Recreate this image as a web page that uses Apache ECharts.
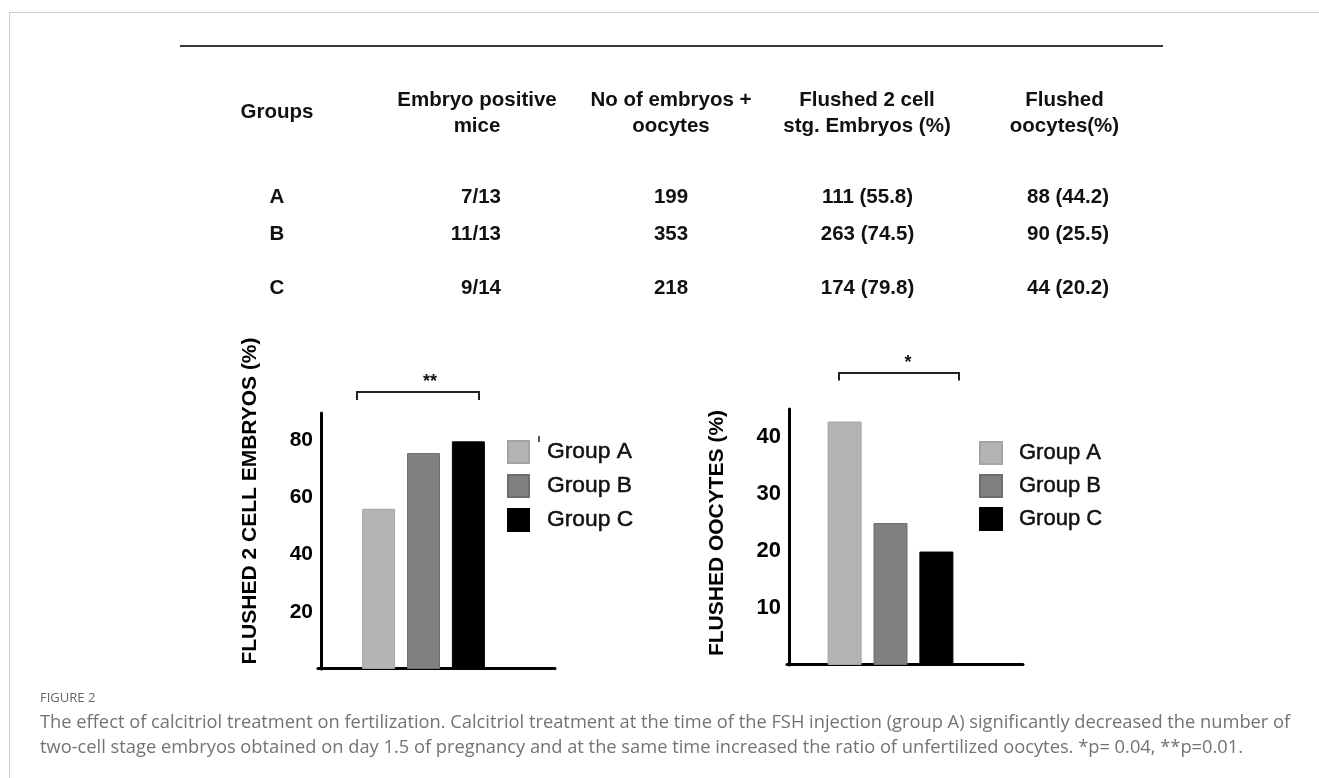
<!DOCTYPE html>
<html><head><meta charset="utf-8">
<script src="https://cdn.jsdelivr.net/npm/echarts@6/dist/echarts.min.js"></script>
<style>html,body{margin:0;padding:0;background:#fff}#c{width:1319px;height:778px}</style>
</head><body><div id="c"></div>
<script>
// ---- data ----
const groups = ['Group A', 'Group B', 'Group C'];
const tableHeaders = [['Groups'], ['Embryo positive', 'mice'], ['No of embryos +', 'oocytes'], ['Flushed 2 cell', 'stg. Embryos (%)'], ['Flushed', 'oocytes(%)']];
const rowLabels = ['A', 'B', 'C'];
const positiveMice = ['7/13', '11/13', '9/14'];
const totalCounts = ['199', '353', '218'];
const embryoCells = ['111 (55.8)', '263 (74.5)', '174 (79.8)'];
const oocyteCells = ['88 (44.2)', '90 (25.5)', '44 (20.2)'];
const embryoPct = [56.0, 75.5, 79.6];
const oocytePct = [42.7, 24.9, 19.9];
const embryoTicks = [20, 40, 60, 80];
const oocyteTicks = [10, 20, 30, 40];
const leftTitle = 'FLUSHED 2 CELL EMBRYOS (%)';
const rightTitle = 'FLUSHED OOCYTES (%)';
const figureLabel = 'FIGURE 2';
const captionLines = [
  'The effect of calcitriol treatment on fertilization. Calcitriol treatment at the time of the FSH injection (group A) significantly decreased the number of',
  'two-cell stage embryos obtained on day 1.5 of pregnancy and at the same time increased the ratio of unfertilized oocytes. *p= 0.04, **p=0.01.'
];

// ---- styles ----
const colors = ['#b4b4b4', '#808080', '#000000'];
const borders = ['#a4a4a4', '#6e6e6e', '#000000'];
const SANS = '"Liberation Sans", Arial, sans-serif';
const tableFont = 'bold 20.5px ' + SANS;

const chart = echarts.init(document.getElementById('c'), null, { renderer: 'canvas' });

const graphics = [];
// frame
graphics.push({ type: 'line', shape: { x1: 9.5, y1: 12.5, x2: 1319, y2: 12.5 }, style: { stroke: '#cccccc', lineWidth: 1 } });
graphics.push({ type: 'line', shape: { x1: 9.5, y1: 12.5, x2: 9.5, y2: 778 }, style: { stroke: '#cccccc', lineWidth: 1 } });
// table top rule
graphics.push({ type: 'line', shape: { x1: 180, y1: 46, x2: 1163, y2: 46 }, style: { stroke: '#3a3a3a', lineWidth: 2 } });

// table
const headerX = [277, 477, 671, 867, 1064.5];
function txt(text, x, y, align, font, color) {
  graphics.push({ type: 'text', x: x, y: y, style: { text: text, font: font, fill: color || '#111', align: align, verticalAlign: 'middle' } });
}
tableHeaders.forEach((h, i) => {
  if (h.length === 1) txt(h[0], headerX[i], 112.5, 'center', tableFont);
  else { txt(h[0], headerX[i], 100.5, 'center', tableFont); txt(h[1], headerX[i], 126.5, 'center', tableFont); }
});
const rowY = [197, 234.5, 288.5];
rowLabels.forEach((r, i) => {
  txt(r, 277, rowY[i], 'center', tableFont);
  txt(positiveMice[i], 501, rowY[i], 'right', tableFont);
  txt(totalCounts[i], 671, rowY[i], 'center', tableFont);
  txt(embryoCells[i], 867.5, rowY[i], 'center', tableFont);
  txt(oocyteCells[i], 1068, rowY[i], 'center', tableFont);
});

// axis titles
graphics.push({ type: 'text', x: 250, y: 501, rotation: Math.PI / 2, style: { text: leftTitle, font: 'bold 21px ' + SANS, fill: '#000', align: 'center', verticalAlign: 'middle' } });
graphics.push({ type: 'text', x: 717, y: 533, rotation: Math.PI / 2, style: { text: rightTitle, font: 'bold 21px ' + SANS, fill: '#000', align: 'center', verticalAlign: 'middle' } });

// significance brackets
graphics.push({ type: 'polyline', shape: { points: [[357, 400], [357, 392], [479, 392], [479, 400]] }, style: { stroke: '#222', lineWidth: 2, fill: null } });
txt('**', 430, 382, 'center', 'bold 18px ' + SANS, '#111');
graphics.push({ type: 'polyline', shape: { points: [[839, 380.5], [839, 373], [959, 373], [959, 380.5]] }, style: { stroke: '#222', lineWidth: 2, fill: null } });
txt('*', 908, 363.5, 'center', 'bold 18px ' + SANS, '#111');
// small stray mark by legend
graphics.push({ type: 'line', shape: { x1: 539, y1: 436, x2: 539, y2: 442 }, style: { stroke: '#222', lineWidth: 1.5 } });

// caption
txt(figureLabel, 40, 698, 'left', '13px "Open Sans", sans-serif', '#666');
txt(captionLines[0], 40, 722.5, 'left', '18.3px "Open Sans", sans-serif', '#737373');
txt(captionLines[1], 40, 747.5, 'left', '18.3px "Open Sans", sans-serif', '#737373');

function yAxisFor(grid, max, interval, ticks, fs, pad) {
  return {
    type: 'value', gridIndex: grid, min: 0, max: max, interval: interval,
    axisLine: { show: true, lineStyle: { color: '#000', width: 3 } },
    axisTick: { show: false }, splitLine: { show: false },
    axisLabel: {
      margin: 8, color: '#000', fontSize: fs, fontWeight: 'bold', fontFamily: SANS,
      padding: [pad, 0, 0, 0],
      formatter: v => ticks.includes(v) ? String(v) : ''
    }
  };
}
const lineX = { type: 'value', min: 0, max: 1, axisLine: { show: true, onZero: false, lineStyle: { color: '#000', width: 3 } }, axisTick: { show: false }, axisLabel: { show: false }, splitLine: { show: false } };

function legendText(fs, padLeft) {
  return { fontSize: fs, color: '#111', fontFamily: SANS, textBorderColor: '#111', textBorderWidth: 0.5, padding: [0, 0, 0, padLeft] };
}
const legendBase = { data: groups, orient: 'vertical', padding: 0, icon: 'rect', selectedMode: false };

const option = {
  animation: false,
  backgroundColor: '#ffffff',
  grid: [
    { left: 321, top: 413, width: 205, height: 256 },
    { left: 318, top: 413, width: 237, height: 255 },
    { left: 789, top: 409, width: 203, height: 256 },
    { left: 787, top: 409, width: 236, height: 255 }
  ],
  xAxis: [
    { type: 'category', gridIndex: 0, data: ['embryos'], axisLine: { show: false }, axisTick: { show: false }, axisLabel: { show: false } },
    Object.assign({ gridIndex: 1 }, lineX),
    { type: 'category', gridIndex: 2, data: ['oocytes'], axisLine: { show: false }, axisTick: { show: false }, axisLabel: { show: false } },
    Object.assign({ gridIndex: 3 }, lineX)
  ],
  yAxis: [
    yAxisFor(0, 89.5, 20, embryoTicks, 21, 8),
    { type: 'value', gridIndex: 1, min: 0, max: 1, show: false },
    yAxisFor(2, 44.9, 10, oocyteTicks, 22, 5),
    { type: 'value', gridIndex: 3, min: 0, max: 1, show: false }
  ],
  legend: [
    Object.assign({}, legendBase, { left: 507, top: 440, itemWidth: 21, itemHeight: 22, itemGap: 10, textStyle: legendText(22.8, 13) }),
    Object.assign({}, legendBase, { left: 979, top: 441, itemWidth: 22, itemHeight: 22, itemGap: 9, textStyle: legendText(22, 12) })
  ],
  series: groups.map((g, i) => ({
    type: 'bar', name: g, xAxisIndex: 0, yAxisIndex: 0, data: [embryoPct[i]],
    barWidth: 33, barGap: '36%',
    itemStyle: { color: colors[i], borderColor: borders[i], borderWidth: 1 }
  })).concat(groups.map((g, i) => ({
    type: 'bar', name: g, xAxisIndex: 2, yAxisIndex: 2, data: [oocytePct[i]],
    barWidth: 34, barGap: '35%',
    itemStyle: { color: colors[i], borderColor: borders[i], borderWidth: 1 }
  }))),
  graphic: graphics
};
chart.setOption(option);
</script>
</body></html>
